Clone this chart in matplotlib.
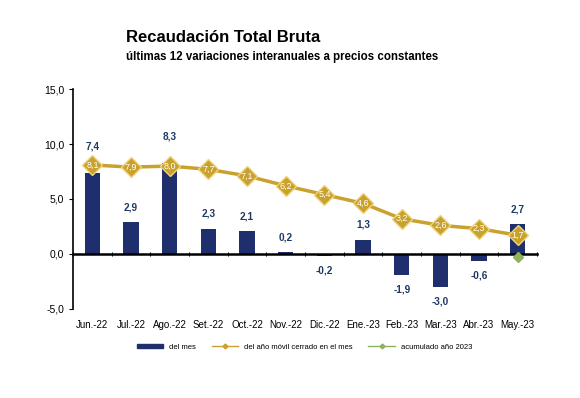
import numpy as np
import matplotlib
matplotlib.use('Agg')
import matplotlib.pyplot as plt
from matplotlib.lines import Line2D
from matplotlib.patches import Patch

plt.rcParams['font.family'] = ['Liberation Sans', 'DejaVu Sans']

# Data
months = ['Jun.-22', 'Jul.-22', 'Ago.-22', 'Set.-22', 'Oct.-22', 'Nov.-22',
          'Dic.-22', 'Ene.-23', 'Feb.-23', 'Mar.-23', 'Abr.-23', 'May.-23']
del_mes = [7.4, 2.9, 8.3, 2.3, 2.1, 0.2, -0.2, 1.3, -1.9, -3.0, -0.6, 2.7]
movil = [8.1, 7.9, 8.0, 7.7, 7.1, 6.2, 5.4, 4.6, 3.2, 2.6, 2.3, 1.7]
acum_idx = [11]
acum_2023 = [-0.3]
yticks = [-5, 0, 5, 10, 15]

navy = '#1f2f6e'
gold = '#c9a22e'
green = '#8fb35a'
label_col = '#1f3864'

fig = plt.figure(figsize=(5.8, 3.98), dpi=100)
ax = fig.add_axes([0.126, 0.224, 0.8, 0.552])

x = np.arange(len(months))
ax.bar(x, del_mes, width=0.4, color=navy, zorder=2)
ax.plot(x, movil, color=gold, lw=2.5, marker='D', ms=10, mfc=gold,
        mec='#f0d27a', mew=1, zorder=3)
ax.plot(acum_idx, acum_2023, ls='none', marker='D', ms=5, color=green, zorder=4)

# labels
for xi, v in zip(x, del_mes):
    txt = f'{v:.1f}'.replace('.', ',')
    if v >= 0:
        off = 15 if xi in (0, 2) else 7
        ax.annotate(txt, (xi, v), xytext=(0, off), textcoords='offset points',
                    ha='center', va='bottom', fontsize=7.2, fontweight='bold', color=label_col)
    else:
        ax.annotate(txt, (xi, v), xytext=(0, -7), textcoords='offset points',
                    ha='center', va='top', fontsize=7.2, fontweight='bold', color=label_col)
for xi, v in zip(x, movil):
    ax.text(xi, v, f'{v:.1f}'.replace('.', ','), ha='center', va='center',
            fontsize=6.5, color='white', zorder=5)

ax.set_xlim(-0.5, len(months) - 0.5)
ax.set_ylim(-5, 15)
ax.set_yticks(yticks)
ax.set_yticklabels([f'{t:.1f}'.replace('.', ',') for t in yticks], fontsize=7.5)
ax.tick_params(axis='y', length=3, width=0.8)

for s in ['top', 'right']:
    ax.spines[s].set_visible(False)
ax.spines['left'].set_linewidth(1.2)
ax.spines['bottom'].set_position(('data', 0))
ax.spines['bottom'].set_linewidth(1.8)
ax.set_xticks(x)
ax.tick_params(axis='x', which='major', length=0, labelbottom=False)
ax.set_xticks(np.arange(-0.5, len(months)), minor=True)
ax.tick_params(axis='x', which='minor', length=3, direction='inout', width=0.8)
for xi, m in zip(x, months):
    ax.text(xi, -6.5, m, ha='center', va='center', fontsize=7, clip_on=False)

fig.text(0.217, 0.907, 'Recaudación Total Bruta', fontsize=12, fontweight='bold', va='center')
fig.text(0.217, 0.858, 'últimas 12 variaciones interanuales a precios constantes',
         fontsize=8.3, fontweight='bold', va='center')

handles = [Patch(color=navy),
           Line2D([], [], color=gold, lw=1, marker='D', ms=2.5),
           Line2D([], [], color=green, lw=1, marker='D', ms=2.5)]
fig.legend(handles, ['del mes', 'del año móvil cerrado en el mes', 'acumulado año 2023'],
           loc='center', bbox_to_anchor=(0.525, 0.128), ncol=3, frameon=False,
           fontsize=5.5, handlelength=3.5, handleheight=0.5, columnspacing=2)

fig.savefig('out.png', dpi=100)
